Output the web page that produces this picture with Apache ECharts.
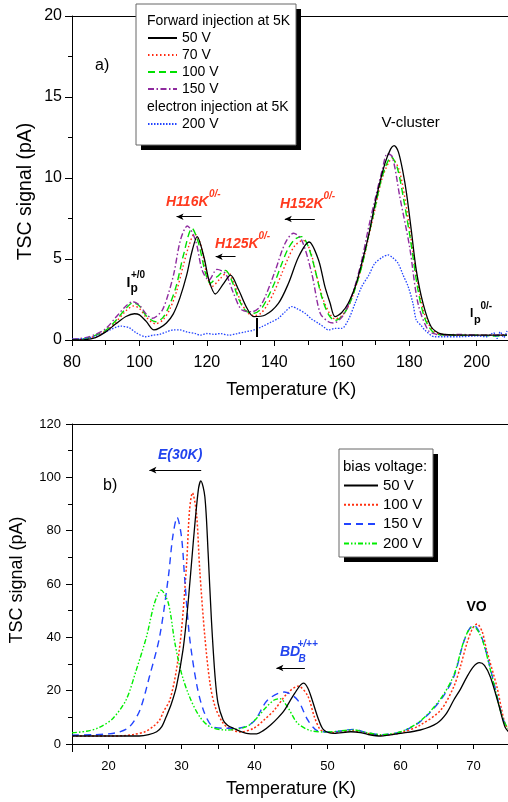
<!DOCTYPE html>
<html><head><meta charset="utf-8">
<script src="https://cdn.jsdelivr.net/npm/echarts/dist/echarts.min.js"></script>
<style>html,body{margin:0;padding:0;background:#fff;width:508px;height:802px;overflow:hidden}
#a{position:absolute;left:0;top:0;width:508px;height:400px}
#b{position:absolute;left:0;top:400px;width:508px;height:402px}</style>
</head><body><div id="a"></div><div id="b"></div>
<script>
// ---------- Panel a) : temperatures (K) and TSC signal (pA) ----------
const topT50 = [80,84,87,90,93,96,98.5,100,102,104.3,106,108,110,112,114,115.5,117.1,119.1,120.6,122.5,125,127,129.4,131.9,133.9,137.3,141.2,144.2,147.2,150.3,153.1,155,156.5,158,160,162,164,166,168,170.3,172.8,174.5,175.5,176.8,178.2,179.2,180.6,182.1,184.1,186.5,189.5,195,200,205,209];
const top50  = [0,0.02,0.15,0.5,1.0,1.45,1.62,1.55,1.15,0.62,0.75,1.05,1.6,2.6,4.0,5.4,6.38,5.14,3.7,2.84,3.5,4.0,3.1,1.96,1.44,1.54,2.26,3.5,5.14,6.05,4.94,3.29,2.3,1.44,1.7,2.3,3.3,4.8,6.5,8.85,10.9,11.8,12.0,11.6,10.3,9.05,6.8,4.3,2.26,0.82,0.37,0.3,0.3,0.3,0.3];
const topT70 = [80,84,87,90,93,96,98.2,100,102,104.8,107,109,111,113,114.8,116.3,118,120,121.5,124,126.2,128,130,132,134,136,138,140,142,144,146,148.5,150.5,152.5,154.5,156.5,158,160,162,164,166,168,170,172,175,177,179,181,183,185,187.5,190,195,200,205,209];
const top70  = [0.02,0.08,0.25,0.55,1.1,1.8,2.1,1.95,1.4,1.0,1.25,1.9,3.0,4.6,5.9,6.55,6.0,4.0,3.3,3.8,4.2,3.5,2.4,1.7,1.5,1.65,2.2,3.0,4.0,5.0,5.8,6.15,5.6,4.0,2.5,1.6,1.3,1.5,2.1,3.2,4.6,6.4,8.2,10.0,11.2,10.5,8.4,5.6,3.0,1.3,0.5,0.35,0.3,0.3,0.3,0.3];
const topT100 = [80,84,87,90,93,96,98,100,102,104.8,107,109,111,113,115.6,117.5,119.5,121,123,125.5,127.5,129.5,131.5,134,136,138,140,142,144,146,148.1,150,152,154,156,158,160,162,164,166,168,170,172,174.7,176.5,178.5,180.5,182.5,184.5,187,190,195,200,205,209];
const top100  = [0.03,0.1,0.3,0.6,1.2,1.95,2.3,2.1,1.5,1.13,1.4,2.2,3.4,5.2,6.9,6.0,4.2,3.5,3.9,4.3,3.6,2.5,1.8,1.65,1.9,2.6,3.5,4.6,5.6,6.2,6.38,5.8,4.4,2.7,1.6,1.2,1.45,2.1,3.2,4.6,6.5,8.3,10.1,11.3,10.6,8.5,6.0,3.2,1.4,0.5,0.3,0.3,0.3,0.25,0.3];
const topT150 = [80,84,87,90,93,96,98,100,102,103.8,105,106.8,108.5,110.2,112.2,114.2,116.6,118.6,120.6,123,125.5,127.9,130.4,133.4,135.5,137.3,140.3,143.2,145.7,148.1,151.1,153.6,156,157.5,160,162,164,166,168,170,172,173.5,175,177.2,180.1,182.6,185.6,188,190,195,200,205,209];
const top150  = [0.05,0.15,0.35,0.7,1.4,2.1,2.36,2.15,1.6,1.34,1.45,1.85,2.8,4.1,6.2,7.04,6.17,4.3,3.7,4.36,4.1,2.88,1.85,1.75,2.0,2.67,4.3,5.97,6.59,6.17,4.1,1.65,1.13,1.05,1.4,2.2,3.4,5.0,7.0,8.8,10.5,11.5,11.3,8.85,5.76,2.26,0.6,0.35,0.3,0.35,0.3,0.3,0.35];
const topT200 = [80,84,88,91,94.5,97,99,101.8,104,106,108,110,112,114,116.6,118,120,122,124,126.4,129,131.4,134,136.3,139,141.2,143,145.2,147,149.1,151,153.1,155,156,158,160,161.9,164,165.9,168,169.8,172,173.7,175,176.7,178.2,179.7,181.1,182.1,183.5,184.6,187.5,190,195,200,203,205,206,207,208,209];
const top200  = [0.05,0.1,0.3,0.6,0.86,0.75,0.45,0.2,0.3,0.35,0.5,0.62,0.62,0.5,0.4,0.3,0.4,0.35,0.4,0.3,0.4,0.5,0.62,0.82,1.1,1.34,1.7,2.06,1.9,1.65,1.3,1.03,0.75,0.62,0.72,0.72,1.23,2.3,3.29,4.0,4.73,5.1,5.25,5.1,4.73,4.0,3.29,2.26,1.23,0.9,0.62,0.2,0.2,0.2,0.25,0.2,0.45,0.1,0.5,0.15,0.55];
const topTicksX = [80,100,120,140,160,180,200];
const topTicksY = [0,5,10,15,20];
// arrows: [from T, to T, level]
const arrowsA = [[118.4,111.0,7.61],[128.5,122.6,5.14],[152.0,143.1,7.47]];

// ---------- Panel b) ----------
const botT50 = [15,20,23,24.2,25.5,26.6,27.3,27.9,28.6,29.3,30.2,30.9,31.6,32.3,32.65,33.2,33.65,34.1,34.6,35.0,35.7,36.3,37.1,38.9,40.3,41.2,42.2,43.2,44.1,45.5,46.7,47.3,47.9,48.8,49.5,50.9,53.2,54.5,55.5,57.3,60,62.7,65,66.3,67.3,68.2,69.1,70.0,70.8,71.5,72.3,73.4,74.3,75];
const bot50  = [3.0,3.0,3.0,3.0,3.5,4.6,6.5,10.2,15,21.5,35.2,52.8,75.3,95.2,98.7,92.7,71.5,46.5,25.2,15.3,9,7,5.9,4.0,3.8,5,7.1,9.8,12.7,19.0,22.8,21,16.5,9,5.25,4,4.6,4.3,3.6,3.0,4,5.25,7.8,11.5,16.5,20.5,25.2,29,30.5,29.5,25.2,15.3,6.5,4.0];
const botT100 = [15,20,22,23.5,25,26.1,27,27.5,28.4,29.3,30.0,30.7,31.1,31.5,32.05,32.5,33.2,33.9,34.6,35.7,36.5,38,39.9,41.3,42.7,44.5,46.0,47.3,48.2,49.1,50.5,53.5,55.5,57.3,60,62.7,65.5,67.3,68.2,69.1,69.9,70.5,71.2,71.8,73.2,74.3,75];
const bot100  = [3.0,3.0,3.1,3.6,4.6,6.5,9,12,16.5,27.7,42.7,67.7,87.7,94.2,86.5,65.2,40.2,22.8,14,7.8,6,4.5,5.9,9,12.7,19,21.7,18,10.2,5.2,4.3,5,4,3.3,4.2,7.1,12.7,21.5,29,37.8,43.5,45,42,35.2,21.5,7.8,5];
const botT150 = [15,18,20,21.5,22.9,24.3,25.6,27,28.2,28.8,29.4,30,30.45,31.1,32.05,33,34.3,36.1,38,39.9,41.8,44.1,45.9,47.3,48.6,50.5,53.5,55.5,57.3,60,62.7,65.5,67.3,68.6,69.4,70,70.7,71.4,72.7,74.1,75];
const bot150  = [3.3,3.5,3.8,4.5,6.5,12.7,25.2,40.2,62.7,77.7,85,77.7,61.5,40.2,22.8,12.7,6.5,5.9,6,8.4,16.5,19.5,16.5,9,5,4.5,5.5,4.2,3.5,4.5,8.4,16.5,25.2,37.8,43,44.6,42.5,37.8,24,9,5];
const botT200 = [15,17,18.75,20.6,22.4,23.8,25.2,26.3,27.2,28.2,29.1,30,31.1,32.5,33.9,36.1,38.9,40.3,41.5,42.7,43.5,44.5,45.9,47.7,50,53.5,55.5,57.3,60,62.7,65.5,67.3,68.6,69.4,70,70.7,71.4,72.7,74.1,75];
const bot200  = [4.2,4.8,6.2,9.6,16.5,27.7,40.2,52.8,57.7,52.8,37.8,26.5,17.7,10.2,6.5,5.25,6.5,9.7,13.5,16.5,17,14,7.8,5,4.5,5.3,4.2,3.5,4.6,8.6,17,25.8,38,43,44,42,37.5,23.5,8.8,5];
const arrowsB = [[32.7,25.6,102.7],[46.9,43.0,28.5]];

const FONT = 'Liberation Sans, Arial, Helvetica, sans-serif';
function pairs(T, V){ return T.map((t,i)=>[t, V[i]]); }
function line(name, T, V, color, type, width, extra){
  return Object.assign({
    name, type:'line', data: pairs(T,V), symbol:'none', showSymbol:false,
    smooth:0.3, animation:false, emphasis:{disabled:true},
    lineStyle:{color, width: width||1.2, type}, itemStyle:{color}
  }, extra||{});
}
function arrowML(arr){
  return {
    silent:true, symbol:['none','arrow'], symbolSize:[5,7], animation:false,
    label:{show:false}, emphasis:{disabled:true},
    lineStyle:{color:'#000', width:1, type:'solid'},
    data: arr.map(a=>[{coord:[a[0],a[2]]},{coord:[a[1],a[2]]}])
  };
}
function txt(x,y,text,font,fill,z){
  return {type:'text', x, y, z: z||5, silent:true,
    style:{text, font, fill: fill||'#000', verticalAlign:'middle', align:'left'}};
}
function vtxt(x,y,text,font){
  return {type:'text', x, y, z:5, silent:true, rotation:Math.PI/2,
    style:{text, font, fill:'#000', verticalAlign:'middle', align:'center'}};
}
function vline(x,y1,y2,w){
  return {type:'line', z:5, silent:true, shape:{x1:x,y1:y1,x2:x,y2:y2}, style:{stroke:'#000', lineWidth:w||1}};
}
function box(x,y,w,h){
  return [
    {type:'rect', z:3, z2:0, silent:true, shape:{x:x+5,y:y+5,width:w,height:h}, style:{fill:'#000'}},
    {type:'rect', z:3, z2:1, silent:true, shape:{x:x,y:y,width:w,height:h}, style:{fill:'#fff', stroke:'#666', lineWidth:1}}
  ];
}
const legendItemStyle = {opacity:0};

// ---------- chart A ----------
const ca = echarts.init(document.getElementById('a'));
ca.setOption({
  animation:false, backgroundColor:'#fff',
  grid:{left:72, right:-2.4, top:16, bottom:60, outerBoundsMode:'none', containLabel:false},
  xAxis:[{
    type:'value', min:80, max:210, interval:20, offset:2,
    name:'Temperature (K)', nameLocation:'middle', nameGap:39, nameMoveOverlap:false,
    nameTextStyle:{fontSize:18, fontFamily:FONT, color:'#000'},
    axisLine:{show:true, lineStyle:{color:'#000', width:1}},
    axisTick:{show:true, length:6, lineStyle:{color:'#000'}},
    minorTick:{show:true, splitNumber:2, length:5, lineStyle:{color:'#000'}},
    splitLine:{show:false},
    axisLabel:{fontSize:16, fontFamily:FONT, color:'#000', margin:13,
      formatter:v=> topTicksX.indexOf(v)>=0 ? String(v) : ''}
  },{
    type:'value', min:80, max:210, position:'top',
    axisLine:{show:true, lineStyle:{color:'#000', width:1}},
    axisTick:{show:false}, axisLabel:{show:false}, splitLine:{show:false}
  }],
  yAxis:{
    type:'value', min:0, max:20, interval:5,
    axisLine:{show:true, lineStyle:{color:'#000', width:1}},
    axisTick:{show:true, length:7, lineStyle:{color:'#000'}},
    minorTick:{show:true, splitNumber:2, length:4, lineStyle:{color:'#000'}},
    splitLine:{show:false},
    axisLabel:{fontSize:16, fontFamily:FONT, color:'#000', margin:10,
      formatter:v=> topTicksY.indexOf(v)>=0 ? String(v) : ''}
  },
  legend:[{
    data:['50 V','70 V','100 V','150 V'], orient:'vertical', left:147, top:31, padding:0,
    itemWidth:29, itemHeight:14, itemGap:3, z:6, selectedMode:false, itemStyle:legendItemStyle,
    textStyle:{fontSize:14, fontFamily:FONT, color:'#000'}
  },{
    data:['200 V'], orient:'vertical', left:147, top:117, padding:0,
    itemWidth:29, itemHeight:14, itemGap:3, z:6, selectedMode:false, itemStyle:legendItemStyle,
    textStyle:{fontSize:14, fontFamily:FONT, color:'#000'}
  }],
  series:[
    line('50 V', topT50, top50, '#000000', 'solid', 1.3, {markLine: arrowML(arrowsA), z:6}),
    line('70 V', topT70, top70, '#ff2a10', [1.5,2.5], 1.4),
    line('100 V', topT100, top100, '#00e000', [7,4], 1.4),
    line('150 V', topT150, top150, '#8e2a9e', [6,2.5,1.5,2.5], 1.4),
    line('200 V', topT200, top200, '#2244ff', [1.5,1.5], 1.3)
  ],
  graphic:[].concat(box(136,4,160,141), [
    vtxt(26,191.5,'TSC signal (pA)','19.5px '+FONT),
    txt(147,21,'Forward injection at 5K','14px '+FONT),
    txt(147,107,'electron injection at 5K','14px '+FONT),
    txt(95,66,'a)','16px '+FONT),
    txt(381.5,122.5,'V-cluster','15px '+FONT),
    txt(166,202,'H116K','italic bold 14px '+FONT,'#ff3a1e'),
    txt(209,194,'0/-','italic bold 10px '+FONT,'#ff3a1e'),
    txt(215,244,'H125K','italic bold 14px '+FONT,'#ff3a1e'),
    txt(258.5,236,'0/-','italic bold 10px '+FONT,'#ff3a1e'),
    txt(280,204,'H152K','italic bold 14px '+FONT,'#ff3a1e'),
    txt(323.5,196,'0/-','italic bold 10px '+FONT,'#ff3a1e'),
    txt(126.5,283,'I','bold 14px '+FONT),
    txt(130.5,289,'p','bold 12px '+FONT),
    txt(131,275.5,'+/0','bold 10px '+FONT),
    txt(470,314,'I','bold 12px '+FONT),
    txt(474,319.5,'p','bold 11px '+FONT),
    txt(480.5,306,'0/-','bold 10px '+FONT),
    vline(257,318,337,2),
    vline(72.5,339,343,1)
  ])
});

// ---------- chart B ----------
const cb = echarts.init(document.getElementById('b'));
cb.setOption({
  animation:false, backgroundColor:'#fff',
  grid:{left:72, right:-2, top:24, bottom:58, outerBoundsMode:'none', containLabel:false},
  xAxis:[{
    type:'value', min:15, max:75, interval:5, offset:7,
    name:'Temperature (K)', nameLocation:'middle', nameGap:29, nameMoveOverlap:false,
    nameTextStyle:{fontSize:18, fontFamily:FONT, color:'#000'},
    axisLine:{show:true, lineStyle:{color:'#000', width:1}},
    axisTick:{show:true, length:5, lineStyle:{color:'#000'}},
    splitLine:{show:false},
    axisLabel:{fontSize:13, fontFamily:FONT, color:'#000', margin:9,
      formatter:v=> (v%10===0 && v>15 && v<75) ? String(v) : ''}
  },{
    type:'value', min:15, max:75, position:'top',
    axisLine:{show:true, lineStyle:{color:'#000', width:1}},
    axisTick:{show:false}, axisLabel:{show:false}, splitLine:{show:false}
  }],
  yAxis:{
    type:'value', min:0, max:120, interval:20,
    axisLine:{show:true, lineStyle:{color:'#000', width:1}},
    axisTick:{show:true, length:6, lineStyle:{color:'#000'}},
    minorTick:{show:true, splitNumber:2, length:4, lineStyle:{color:'#000'}},
    splitLine:{show:false},
    axisLabel:{fontSize:13, fontFamily:FONT, color:'#000', margin:11}
  },
  legend:{
    data:['50 V','100 V','150 V','200 V'], orient:'vertical', left:343, top:78, padding:0,
    itemWidth:34, itemHeight:14, itemGap:4.3, z:6, selectedMode:false, itemStyle:legendItemStyle,
    textStyle:{fontSize:15, fontFamily:FONT, color:'#000'}
  },
  series:[
    line('50 V', botT50, bot50, '#000000', 'solid', 1.3, {markLine: arrowML(arrowsB), z:6}),
    line('100 V', botT100, bot100, '#ff3010', [2,2], 1.5),
    line('150 V', botT150, bot150, '#2244ff', [7,5], 1.4),
    line('200 V', botT200, bot200, '#00ee00', [5,2,1.5,2,1.5,2], 1.4)
  ],
  graphic:[].concat(box(339,49,94,108), [
    vtxt(17,180,'TSC signal (pA)','18px '+FONT),
    txt(343,67,'bias voltage:','15px '+FONT),
    txt(158,55,'E(30K)','italic bold 14px '+FONT,'#2244ee'),
    txt(103,86,'b)','16px '+FONT),
    txt(466.5,207,'VO','bold 14px '+FONT),
    txt(280,252,'BD','italic bold 14px '+FONT,'#2244ee'),
    txt(298.5,259,'B','italic bold 10px '+FONT,'#2244ee'),
    txt(297.5,244,'+/++','italic bold 10px '+FONT,'#2244ee'),
    vline(72.5,343,352,1)
  ])
});
</script></body></html>
